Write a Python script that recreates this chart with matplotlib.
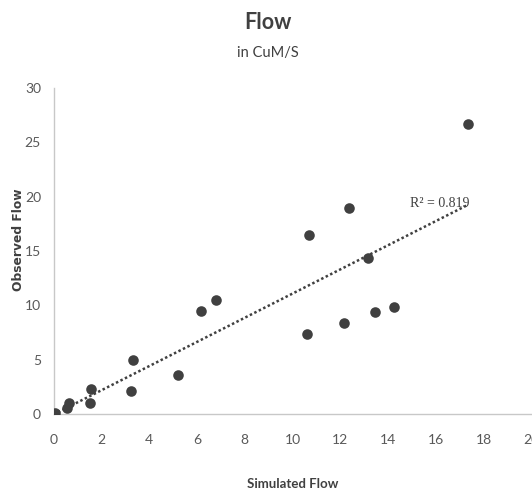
import matplotlib
matplotlib.use("Agg")
import matplotlib.pyplot as plt
import numpy as np

sim_flow = [0.0, 0.08, 0.55, 0.65, 1.53, 1.56, 3.24, 3.31, 5.22, 6.17, 6.8,
            10.6, 10.7, 12.14, 12.36, 13.15, 13.44, 14.23, 17.36]
obs_flow = [0.0, 0.1, 0.6, 1.0, 1.0, 2.3, 2.15, 5.0, 3.6, 9.5, 10.5,
            7.36, 16.5, 8.4, 19.0, 14.4, 9.35, 9.9, 26.7]
x_ticks = [0, 2, 4, 6, 8, 10, 12, 14, 16, 18, 20]
y_ticks = [0, 5, 10, 15, 20, 25, 30]
r2_label = "R² = 0.819"

plt.rcParams['font.family'] = ['Lato', 'DejaVu Sans']

fig = plt.figure(figsize=(5.32, 4.93), dpi=100)
ax = fig.add_axes([0.1006, 0.160, 0.8984, 0.6615])

x = np.array(sim_flow)
y = np.array(obs_flow)
ax.scatter(x, y, s=58, color='#404040', zorder=3, linewidths=0)

m, b = np.polyfit(x, y, 1)
xl = np.array([x.min(), x.max()])
ax.plot(xl, m * xl + b, linestyle=(0, (1, 1)), color='#404040', linewidth=1.8, zorder=2)

ax.text(14.9, 19.35, r2_label, family=['Liberation Serif', 'DejaVu Serif'],
        fontsize=10, color='#404040', ha='left', va='center')

ax.set_xlim(0, 20)
ax.set_ylim(0, 30)
ax.set_xticks(x_ticks)
ax.set_yticks(y_ticks)
for s in ['top', 'right']:
    ax.spines[s].set_visible(False)
for s in ['left', 'bottom']:
    ax.spines[s].set_color('#c8c8c8')
    ax.spines[s].set_linewidth(1.0)
ax.tick_params(axis='both', length=0, labelsize=10, labelcolor='#595959')
ax.tick_params(axis='x', pad=14)
ax.tick_params(axis='y', pad=9)

fig.text(0.504, 0.955, "Flow", fontsize=15.5, fontweight='bold', color='#404040',
         ha='center', va='center')
fig.text(0.504, 0.892, "in CuM/S", fontsize=10.5, color='#404040',
         ha='center', va='center')
fig.text(0.551, 0.018, "Simulated Flow", fontsize=9.5, fontweight='bold', color='#404040',
         ha='center', va='center')
fig.text(0.034, 0.513, "Observed Flow", fontsize=8.8, fontweight='bold', color='#404040',
         ha='center', va='center', rotation=90, family=['DejaVu Sans'])

fig.savefig("out.png", dpi=100)
